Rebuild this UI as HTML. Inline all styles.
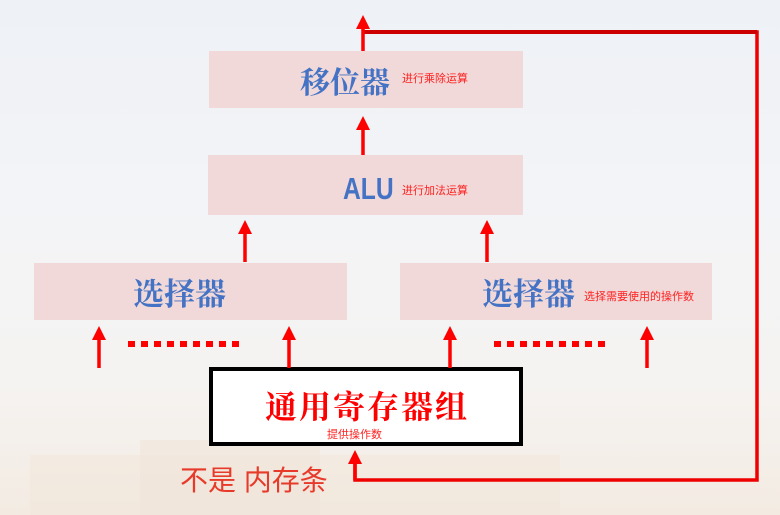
<!DOCTYPE html>
<html><head><meta charset="utf-8"><style>
html,body{margin:0;padding:0;}
body{width:780px;height:515px;overflow:hidden;background:linear-gradient(180deg,#eef1f6 0%,#f3f4f7 40%,#f5f3f1 75%,#f3ebe2 100%);}
svg{display:block}
.b{font-family:"Liberation Sans","Noto Serif CJK SC",serif;fill:#4472c4;font-weight:bold}
.s{font-family:"Liberation Sans","Noto Sans CJK SC",sans-serif;fill:#ff2020;font-size:11px}
</style></head><body>
<svg width="780" height="515" viewBox="0 0 780 515">
<defs><marker id="a" markerWidth="4" markerHeight="4" refX="2" refY="2" orient="auto" markerUnits="strokeWidth"><path d="M0,0L4,2L0,4z" fill="#ff0000"/></marker></defs>
<rect x="30" y="455" width="530" height="60" fill="#f1e6da" opacity="0.5"/>
<rect x="140" y="440" width="180" height="75" fill="#efe4d8" opacity="0.5"/>
<rect x="209" y="51" width="314" height="57" fill="#f0d9d8"/>
<rect x="208" y="155" width="315" height="60" fill="#f0d9d8"/>
<rect x="34" y="263" width="313" height="57" fill="#f0d9d8"/>
<rect x="400" y="263" width="312" height="57" fill="#f0d9d8"/>
<rect x="211" y="369" width="310" height="75" fill="#fff" stroke="#000" stroke-width="4"/>
<polyline points="363,32 757,32 757,480 355,480 355,458" fill="none" stroke="#ee0000" stroke-width="3.5"/>
<line x1="363" y1="32" x2="757" y2="32" stroke="#cc0000" stroke-width="4"/>
<g stroke="#ff0000" stroke-width="3.5" fill="none">
<line x1="363" y1="51" x2="363" y2="22" marker-end="url(#a)"/>
<line x1="363" y1="155" x2="363" y2="123" marker-end="url(#a)"/>
<line x1="245" y1="262" x2="245" y2="227" marker-end="url(#a)"/>
<line x1="487" y1="262" x2="487" y2="227" marker-end="url(#a)"/>
<line x1="99" y1="368" x2="99" y2="333" marker-end="url(#a)"/>
<line x1="289" y1="368" x2="289" y2="333" marker-end="url(#a)"/>
<line x1="450" y1="368" x2="450" y2="333" marker-end="url(#a)"/>
<line x1="647" y1="368" x2="647" y2="333" marker-end="url(#a)"/>
<line x1="355" y1="480" x2="355" y2="457" marker-end="url(#a)"/>
<line x1="128" y1="344" x2="240" y2="344" stroke-width="6" stroke-dasharray="7,6"/>
<line x1="494" y1="344" x2="606" y2="344" stroke-width="6" stroke-dasharray="7,6"/>
</g>
<text class="b" x="300" y="93" font-size="30">移位器</text>
<text class="s" x="402" y="82">进行乘除运算</text>
<text class="b" x="0" y="0" font-size="29" transform="translate(343,199) scale(0.85,1.05)">ALU</text>
<text class="s" x="402" y="194">进行加法运算</text>
<text class="b" x="133" y="305" font-size="31">选择器</text>
<text class="b" x="482" y="305" font-size="31">选择器</text>
<text class="s" x="584" y="300">选择需要使用的操作数</text>
<text x="265" y="418" font-size="32" font-weight="bold" fill="#ff0000" font-family="Liberation Sans,Noto Serif CJK SC,serif" letter-spacing="2">通用寄存器组</text>
<text class="s" x="327" y="438">提供操作数</text>
<text x="180" y="490" font-size="28" fill="#e83a2a" font-family="Liberation Sans,WenQuanYi Zen Hei,sans-serif">不是 内存条</text>
</svg>
</body></html>
